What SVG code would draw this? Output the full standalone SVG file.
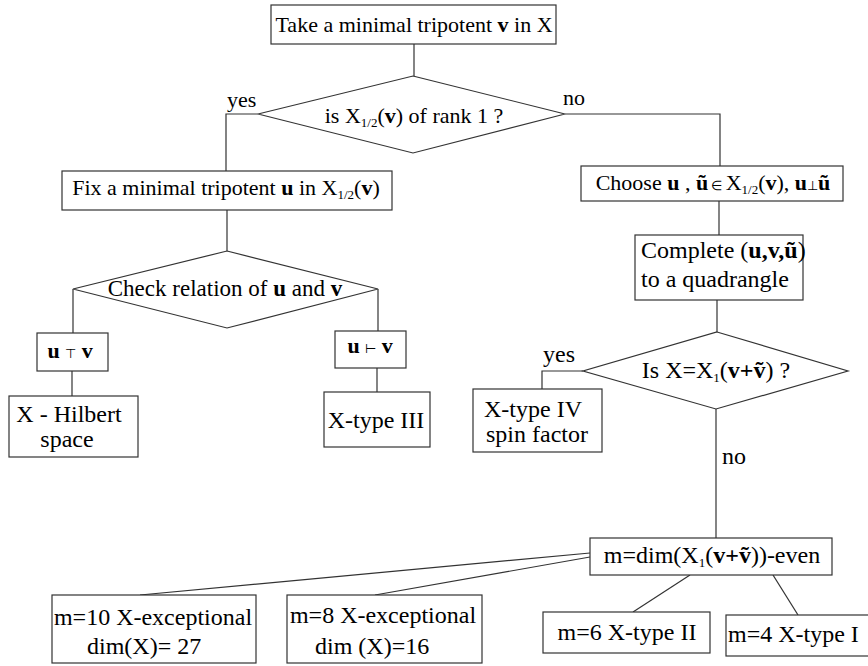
<svg xmlns="http://www.w3.org/2000/svg" width="868" height="666" viewBox="0 0 868 666" font-family="'Liberation Serif', 'Times New Roman', serif">
  <style>
    .box { fill: #ffffff; stroke: #333333; stroke-width: 1.2; }
    .edge { fill: none; stroke: #333333; stroke-width: 1.2; }
    .t22 { font-size: 22px; }
    .t23 { font-size: 23px; }
    .t24 { font-size: 24px; }
    .b { font-weight: bold; }
    .sub { font-size: 13px; }
    .sym { font-size: 13px; }
  </style>
  <rect width="868" height="666" fill="#ffffff"/>

  <g id="connectors">
    <line class="edge" x1="414" y1="44" x2="414" y2="76"/>
    <polyline class="edge" points="258,114 226,114 226,171"/>
    <polyline class="edge" points="565,114 720,114 720,166"/>
    <line class="edge" x1="227" y1="210" x2="227" y2="251"/>
    <line class="edge" x1="73" y1="289" x2="73" y2="333"/>
    <line class="edge" x1="72" y1="371" x2="72" y2="396"/>
    <line class="edge" x1="378" y1="289" x2="378" y2="331"/>
    <line class="edge" x1="377" y1="368" x2="377" y2="392"/>
    <line class="edge" x1="719" y1="201" x2="719" y2="235"/>
    <line class="edge" x1="717" y1="300" x2="717" y2="332"/>
    <polyline class="edge" points="583,371 542,371 542,389"/>
    <line class="edge" x1="716" y1="409" x2="716" y2="538"/>
    <line class="edge" x1="590" y1="553" x2="140" y2="595"/>
    <line class="edge" x1="590" y1="557" x2="375" y2="595"/>
    <line class="edge" x1="690" y1="575" x2="633" y2="612"/>
    <line class="edge" x1="773" y1="575" x2="798" y2="615"/>
  </g>

  <g id="start">
    <rect class="box" x="271" y="5" width="285" height="39"/>
    <text class="t22" x="414" y="32" text-anchor="middle">Take a minimal tripotent <tspan class="b">v</tspan> in X</text>
  </g>

  <g id="rank-check">
    <polygon class="box" points="413,76 565,114 413,153 258,114"/>
    <text class="t22" x="414" y="123" text-anchor="middle">is X<tspan class="sub" dy="4">1/2</tspan><tspan dy="-4">(</tspan><tspan class="b">v</tspan>) of rank 1 ?</text>
    <text class="t22" x="227" y="107">yes</text>
    <text class="t22" x="563" y="105">no</text>
  </g>

  <g id="fix-u">
    <rect class="box" x="62" y="171" width="330" height="39"/>
    <text class="t22" x="226" y="195" text-anchor="middle">Fix a minimal tripotent <tspan class="b">u</tspan> in X<tspan class="sub" dy="4">1/2</tspan><tspan dy="-4">(</tspan><tspan class="b">v</tspan>)</text>
  </g>

  <g id="relation-check">
    <polygon class="box" points="227,251 378,289 227,328 73,289"/>
    <text class="t23" x="225" y="296" text-anchor="middle">Check relation of <tspan class="b">u</tspan> and <tspan class="b">v</tspan></text>
  </g>

  <g id="u-top-v">
    <rect class="box" x="37" y="333" width="71" height="38"/>
    <text class="t22" x="70" y="358" text-anchor="middle"><tspan class="b">u</tspan> <tspan class="sym">⊤</tspan> <tspan class="b">v</tspan></text>
  </g>

  <g id="hilbert">
    <rect class="box" x="9" y="396" width="129" height="61"/>
    <text class="t24" x="69" y="422" text-anchor="middle">X - Hilbert</text>
    <text class="t24" x="67" y="447" text-anchor="middle">space</text>
  </g>

  <g id="u-vdash-v">
    <rect class="box" x="335" y="331" width="71" height="37"/>
    <text class="t22" x="370" y="353" text-anchor="middle"><tspan class="b">u</tspan> <tspan class="sym">⊢</tspan> <tspan class="b">v</tspan></text>
  </g>

  <g id="type-iii">
    <rect class="box" x="324" y="392" width="106" height="55"/>
    <text class="t24" x="376" y="428" text-anchor="middle">X-type III</text>
  </g>

  <g id="choose">
    <rect class="box" x="581" y="166" width="262" height="35"/>
    <text class="t22" x="713" y="190" text-anchor="middle">Choose <tspan class="b">u</tspan> , <tspan class="b">ũ</tspan><tspan class="sym"> ∈ </tspan>X<tspan class="sub" dy="4">1/2</tspan><tspan dy="-4">(</tspan><tspan class="b">v</tspan>), <tspan class="b">u</tspan><tspan class="sym">⊥</tspan><tspan class="b">ũ</tspan></text>
  </g>

  <g id="complete">
    <rect class="box" x="635" y="235" width="168" height="65"/>
    <text class="t24" x="641" y="258">Complete (<tspan class="b">u,v,ũ</tspan>)</text>
    <text class="t24" x="641" y="287">to a quadrangle</text>
  </g>

  <g id="span-check">
    <polygon class="box" points="717,332 848,371 716,409 583,371"/>
    <text class="t24" x="716" y="378" text-anchor="middle">Is X=X<tspan class="sub" dy="4">1</tspan><tspan dy="-4">(</tspan><tspan class="b">v+ṽ</tspan>) ?</text>
    <text class="t24" x="543" y="362">yes</text>
    <text class="t24" x="722" y="464">no</text>
  </g>

  <g id="type-iv">
    <rect class="box" x="473" y="389" width="129" height="63"/>
    <text class="t24" x="533" y="417" text-anchor="middle">X-type IV</text>
    <text class="t24" x="537" y="442" text-anchor="middle">spin factor</text>
  </g>

  <g id="dimension">
    <rect class="box" x="590" y="538" width="242" height="37"/>
    <text class="t24" x="712" y="563" text-anchor="middle">m=dim(X<tspan class="sub" dy="4">1</tspan><tspan dy="-4">(</tspan><tspan class="b">v+ṽ</tspan>))-even</text>
  </g>

  <g id="m10">
    <rect class="box" x="52" y="595" width="204" height="68"/>
    <text class="t24" x="153" y="625" text-anchor="middle">m=10 X-exceptional</text>
    <text class="t24" x="87" y="654">dim(X)= 27</text>
  </g>

  <g id="m8">
    <rect class="box" x="287" y="595" width="195" height="68"/>
    <text class="t24" x="383" y="623" text-anchor="middle">m=8 X-exceptional</text>
    <text class="t24" x="315" y="654">dim (X)=16</text>
  </g>

  <g id="m6">
    <rect class="box" x="543" y="612" width="167" height="41"/>
    <text class="t24" x="627" y="640" text-anchor="middle">m=6 X-type II</text>
  </g>

  <g id="m4">
    <rect class="box" x="726" y="615" width="160" height="41"/>
    <text class="t24" x="728" y="642">m=4 X-type I</text>
  </g>
</svg>
